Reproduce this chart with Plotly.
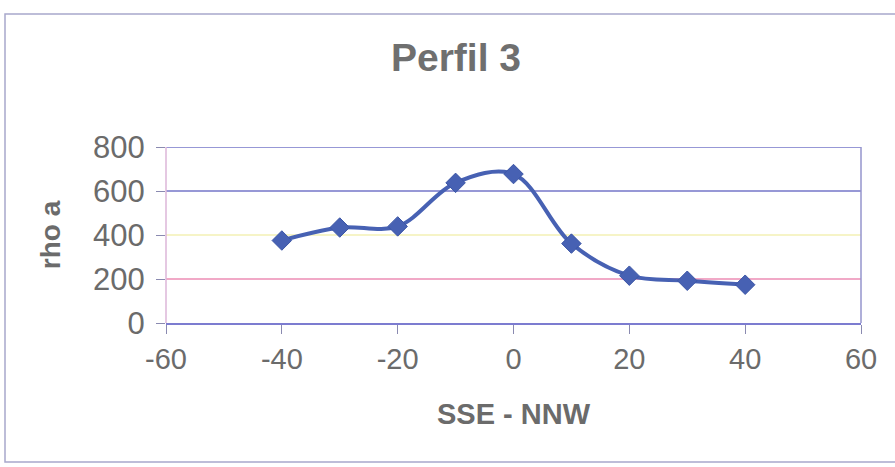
import plotly.graph_objects as go

# Resistivity profile 3 (apparent resistivity along the SSE-NNW line)
distance = [-40, -30, -20, -10, 0, 10, 20, 30, 40]
rho_a = [375, 434, 439, 637, 677, 361, 215, 192, 174]

y_ticks = [0, 200, 400, 600, 800]
x_ticks = [-60, -40, -20, 0, 20, 40, 60]

# horizontal grid colours (per tick value)
grid_values = [200, 400, 600, 800]
grid_colors = ["#ec8cb4", "#f3f0b4", "#7476c8", "#7476c8"]

W, H = 895, 467
L, R, T, B = 166, 34, 147, 144
pw, ph = W - L - R, H - T - B

def px_x(p):
    return (p - L) / pw

def px_y(p):
    return (H - B - p) / ph

line_color = "#4761b3"
text_color = "#6b6b6b"
font_family = "Liberation Sans, Arial, sans-serif"

fig = go.Figure()
fig.add_trace(go.Scatter(
    x=distance, y=rho_a,
    mode="lines+markers",
    line=dict(color=line_color, width=4, shape="spline", smoothing=1.0),
    marker=dict(symbol="diamond", size=15, color=line_color,
                line=dict(color="#3c56a6", width=1)),
    showlegend=False,
    hoverinfo="x+y",
))

shapes = []
for v, c in zip(grid_values, grid_colors):
    shapes.append(dict(type="line", xref="paper", yref="y", x0=0, x1=1,
                       y0=v, y1=v, line=dict(color=c, width=1.5), layer="below"))
# plot area side edges
shapes.append(dict(type="line", xref="paper", yref="paper", x0=0, x1=0, y0=0, y1=1,
                   line=dict(color="#dcb6d8", width=1.5), layer="below"))
shapes.append(dict(type="line", xref="paper", yref="paper", x0=1, x1=1, y0=0, y1=1,
                   line=dict(color="#9494cc", width=1.5), layer="below"))
# outer chart frame
shapes.append(dict(type="rect", xref="paper", yref="paper",
                   x0=px_x(5), x1=px_x(900), y0=px_y(462), y1=px_y(14),
                   line=dict(color="#a8a8cc", width=1.5), layer="below"))

fig.update_layout(
    width=W, height=H,
    margin=dict(l=L, r=R, t=T, b=B, pad=0),
    paper_bgcolor="white", plot_bgcolor="white",
    font=dict(family=font_family, color=text_color),
    title=dict(text="<b>Perfil 3</b>", xref="container", x=456 / W, xanchor="center",
               yref="container", y=1 - 57 / H, yanchor="middle",
               font=dict(size=39, color="#6f6f6f", family=font_family)),
    shapes=shapes,
    xaxis=dict(
        range=[-60, 60], tickvals=x_ticks, ticktext=[str(t) for t in x_ticks],
        showgrid=False, zeroline=False,
        showline=True, linecolor="#7c7cd0", linewidth=1.5,
        ticks="outside", ticklen=9, tickcolor="#8a8ab0", tickwidth=1,
        tickfont=dict(size=29, color=text_color),
        title=dict(text="<b>SSE - NNW</b>", standoff=30,
                   font=dict(size=29, color="#6b6b6b")),
    ),
    yaxis=dict(
        range=[0, 800], tickvals=y_ticks, ticktext=[str(t) for t in y_ticks],
        showgrid=False, zeroline=False, showline=False,
        ticks="outside", ticklen=9, tickcolor="#8a8ab0", tickwidth=1,
        ticklabelstandoff=5,
        tickfont=dict(size=31, color=text_color),
        title=dict(text="<b>rho a</b>", standoff=24,
                   font=dict(size=28, color="#6b6b6b")),
    ),
)

fig.write_html("out.html")
